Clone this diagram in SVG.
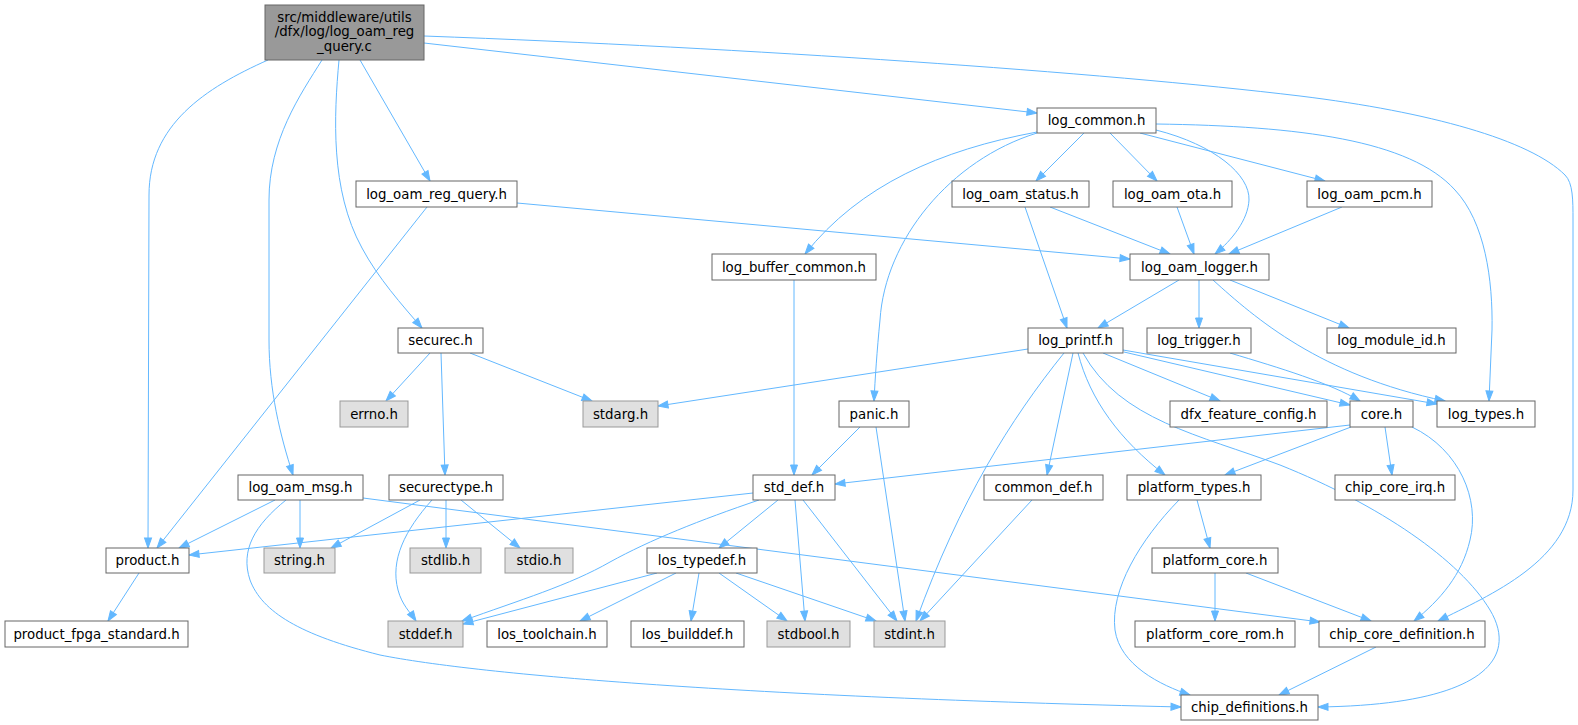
<svg xmlns="http://www.w3.org/2000/svg" width="1578" height="725" viewBox="0 0 1578 725">
<style>
text{font-family:"DejaVu Sans","Liberation Sans",sans-serif;font-size:13.33px;text-anchor:middle;fill:#000}
.n rect{fill:#fff;stroke:#666;stroke-width:1}
.s rect{fill:#e0e0e0;stroke:#999;stroke-width:1}
.r rect{fill:#999;stroke:#666;stroke-width:1}
#edges path{fill:none;stroke:#63b8ff;stroke-width:1;marker-end:url(#a)}
</style>
<defs>
<marker id="a" markerWidth="10" markerHeight="7" refX="10" refY="3.5" orient="auto" markerUnits="userSpaceOnUse" overflow="visible"><path d="M0,0 L10,3.5 L0,7 z" fill="#63b8ff" stroke="#63b8ff" stroke-width="1"/></marker>
</defs>
<rect width="1578" height="725" fill="#fff"/>
<g id="edges">
<path d="M268,60 C205,88 149,125 149,195 L148,548"/>
<path d="M322,60 C300,95 269,140 269,200 L269,340 C269,390 280,435 293,475"/>
<path d="M339,60 C334,115 330,190 362,248 C378,278 402,305 422,328"/>
<path d="M360,60 L430,181"/>
<path d="M424,43 L1037,113"/>
<path d="M424,36 C750,48 1100,72 1300,96 C1430,112 1530,140 1565,175 C1573,183 1573,200 1573,220 L1573,490 C1573,560 1490,595 1438,621"/>
<path d="M427,207 L157,548"/>
<path d="M517,203 L1130,259"/>
<path d="M1037,132 C940,150 860,185 805,254"/>
<path d="M1037,133 C950,160 885,240 880,320 C877,350 875,380 874,401"/>
<path d="M1084,133 L1036,181"/>
<path d="M1110,133 L1157,181"/>
<path d="M1140,133 L1325,181"/>
<path d="M1156,130 C1215,145 1250,175 1249,200 C1248,220 1232,240 1215,254"/>
<path d="M1156,124 C1300,126 1410,140 1455,190 C1485,222 1493,280 1492,330 L1489,401"/>
<path d="M1050,207 L1170,254"/>
<path d="M1025,207 L1067,328"/>
<path d="M1177,207 L1194,254"/>
<path d="M1342,207 L1229,254"/>
<path d="M1179,280 L1098,328"/>
<path d="M1199,280 L1199,328"/>
<path d="M1213,280 C1255,318 1320,375 1445,401"/>
<path d="M1230,280 L1349,328"/>
<path d="M1230,353 C1280,368 1330,383 1360,401"/>
<path d="M1028,349 L658,406"/>
<path d="M1103,353 L1220,401"/>
<path d="M1124,352 L1350,405"/>
<path d="M1123,350 L1437,404"/>
<path d="M1073,353 L1047,475"/>
<path d="M1078,353 C1090,400 1120,440 1165,475"/>
<path d="M1064,353 C1010,420 960,500 916,621"/>
<path d="M1083,353 C1120,420 1200,435 1280,465 C1380,505 1460,560 1490,610 C1520,660 1480,705 1318,707"/>
<path d="M1350,425 L835,484"/>
<path d="M1351,427 L1225,475"/>
<path d="M1385,427 L1392,475"/>
<path d="M1412,427 C1460,450 1480,500 1470,540 C1462,575 1440,600 1414,621"/>
<path d="M1197,500 L1210,548"/>
<path d="M1179,500 C1140,540 1110,590 1115,630 C1120,665 1160,685 1190,695"/>
<path d="M1215,573 L1215,621"/>
<path d="M1246,573 L1371,621"/>
<path d="M1376,647 L1279,695"/>
<path d="M286,500 C255,525 240,550 250,580 C262,612 300,635 380,655 C480,675 750,697 1181,707"/>
<path d="M275,500 L179,548"/>
<path d="M300,500 L300,548"/>
<path d="M363,498 L1320,622"/>
<path d="M430,353 L386,401"/>
<path d="M441,353 L445,475"/>
<path d="M470,353 L592,401"/>
<path d="M420,500 L331,548"/>
<path d="M432,500 C405,530 390,560 398,590 C402,605 410,612 416,621"/>
<path d="M446,500 L446,548"/>
<path d="M461,500 L520,548"/>
<path d="M139,573 L108,621"/>
<path d="M794,280 L794,475"/>
<path d="M860,427 L812,475"/>
<path d="M876,427 L905,621"/>
<path d="M753,493 L189,555"/>
<path d="M759,500 C700,520 650,540 610,562 C570,585 520,600 462,621"/>
<path d="M778,500 L719,548"/>
<path d="M795,500 L805,621"/>
<path d="M803,500 L897,621"/>
<path d="M657,573 L463,624"/>
<path d="M676,573 L580,621"/>
<path d="M699,573 L691,621"/>
<path d="M719,573 L787,621"/>
<path d="M736,573 L876,621"/>
<path d="M1032,500 L920,621"/>
</g>
<g id="root" class="r"><rect x="265" y="5" width="159" height="55"/><text x="344.5" y="21.5">src/middleware/utils</text><text x="344.5" y="36">/dfx/log/log_oam_reg</text><text x="344.5" y="50.5">_query.c</text></g>
<g id="log_common" class="n"><rect x="1037" y="108" width="119" height="25"/><text x="1096.5" y="125">log_common.h</text></g>
<g id="log_oam_reg_query" class="n"><rect x="356" y="181" width="161" height="26"/><text x="436.5" y="198.5">log_oam_reg_query.h</text></g>
<g id="log_oam_status" class="n"><rect x="952" y="181" width="137" height="26"/><text x="1020.5" y="198.5">log_oam_status.h</text></g>
<g id="log_oam_ota" class="n"><rect x="1113" y="181" width="119" height="26"/><text x="1172.5" y="198.5">log_oam_ota.h</text></g>
<g id="log_oam_pcm" class="n"><rect x="1307" y="181" width="125" height="26"/><text x="1369.5" y="198.5">log_oam_pcm.h</text></g>
<g id="log_buffer_common" class="n"><rect x="712" y="254" width="164" height="26"/><text x="794" y="271.5">log_buffer_common.h</text></g>
<g id="log_oam_logger" class="n"><rect x="1130" y="254" width="139" height="26"/><text x="1199.5" y="271.5">log_oam_logger.h</text></g>
<g id="securec" class="n"><rect x="398" y="328" width="85" height="25"/><text x="440.5" y="345">securec.h</text></g>
<g id="log_printf" class="n"><rect x="1028" y="328" width="95" height="25"/><text x="1075.5" y="345">log_printf.h</text></g>
<g id="log_trigger" class="n"><rect x="1147" y="328" width="104" height="25"/><text x="1199" y="345">log_trigger.h</text></g>
<g id="log_module_id" class="n"><rect x="1327" y="328" width="129" height="25"/><text x="1391.5" y="345">log_module_id.h</text></g>
<g id="errno" class="s"><rect x="340" y="401" width="68" height="26"/><text x="374" y="418.5">errno.h</text></g>
<g id="stdarg" class="s"><rect x="583" y="401" width="75" height="26"/><text x="620.5" y="418.5">stdarg.h</text></g>
<g id="panic" class="n"><rect x="839" y="401" width="70" height="26"/><text x="874" y="418.5">panic.h</text></g>
<g id="dfx_feature_config" class="n"><rect x="1170" y="401" width="157" height="26"/><text x="1248.5" y="418.5">dfx_feature_config.h</text></g>
<g id="core" class="n"><rect x="1350" y="401" width="63" height="26"/><text x="1381.5" y="418.5">core.h</text></g>
<g id="log_types" class="n"><rect x="1437" y="401" width="98" height="26"/><text x="1486" y="418.5">log_types.h</text></g>
<g id="log_oam_msg" class="n"><rect x="238" y="475" width="125" height="25"/><text x="300.5" y="492">log_oam_msg.h</text></g>
<g id="securectype" class="n"><rect x="389" y="475" width="114" height="25"/><text x="446" y="492">securectype.h</text></g>
<g id="std_def" class="n"><rect x="753" y="475" width="82" height="25"/><text x="794" y="492">std_def.h</text></g>
<g id="common_def" class="n"><rect x="984" y="475" width="119" height="25"/><text x="1043.5" y="492">common_def.h</text></g>
<g id="platform_types" class="n"><rect x="1127" y="475" width="134" height="25"/><text x="1194" y="492">platform_types.h</text></g>
<g id="chip_core_irq" class="n"><rect x="1335" y="475" width="120" height="25"/><text x="1395" y="492">chip_core_irq.h</text></g>
<g id="product" class="n"><rect x="106" y="548" width="83" height="25"/><text x="147.5" y="565">product.h</text></g>
<g id="string" class="s"><rect x="264" y="548" width="71" height="25"/><text x="299.5" y="565">string.h</text></g>
<g id="stdlib" class="s"><rect x="410" y="548" width="71" height="25"/><text x="445.5" y="565">stdlib.h</text></g>
<g id="stdio" class="s"><rect x="505" y="548" width="68" height="25"/><text x="539" y="565">stdio.h</text></g>
<g id="los_typedef" class="n"><rect x="647" y="548" width="110" height="25"/><text x="702" y="565">los_typedef.h</text></g>
<g id="platform_core" class="n"><rect x="1152" y="548" width="126" height="25"/><text x="1215" y="565">platform_core.h</text></g>
<g id="product_fpga_standard" class="n"><rect x="5" y="621" width="183" height="26"/><text x="96.5" y="638.5">product_fpga_standard.h</text></g>
<g id="stddef" class="s"><rect x="388" y="621" width="75" height="26"/><text x="425.5" y="638.5">stddef.h</text></g>
<g id="los_toolchain" class="n"><rect x="487" y="621" width="120" height="26"/><text x="547" y="638.5">los_toolchain.h</text></g>
<g id="los_builddef" class="n"><rect x="631" y="621" width="113" height="26"/><text x="687.5" y="638.5">los_builddef.h</text></g>
<g id="stdbool" class="s"><rect x="767" y="621" width="83" height="26"/><text x="808.5" y="638.5">stdbool.h</text></g>
<g id="stdint" class="s"><rect x="874" y="621" width="71" height="26"/><text x="909.5" y="638.5">stdint.h</text></g>
<g id="platform_core_rom" class="n"><rect x="1135" y="621" width="160" height="26"/><text x="1215" y="638.5">platform_core_rom.h</text></g>
<g id="chip_core_definition" class="n"><rect x="1319" y="621" width="166" height="26"/><text x="1402" y="638.5">chip_core_definition.h</text></g>
<g id="chip_definitions" class="n"><rect x="1181" y="695" width="137" height="25"/><text x="1249.5" y="712">chip_definitions.h</text></g>
</svg>
